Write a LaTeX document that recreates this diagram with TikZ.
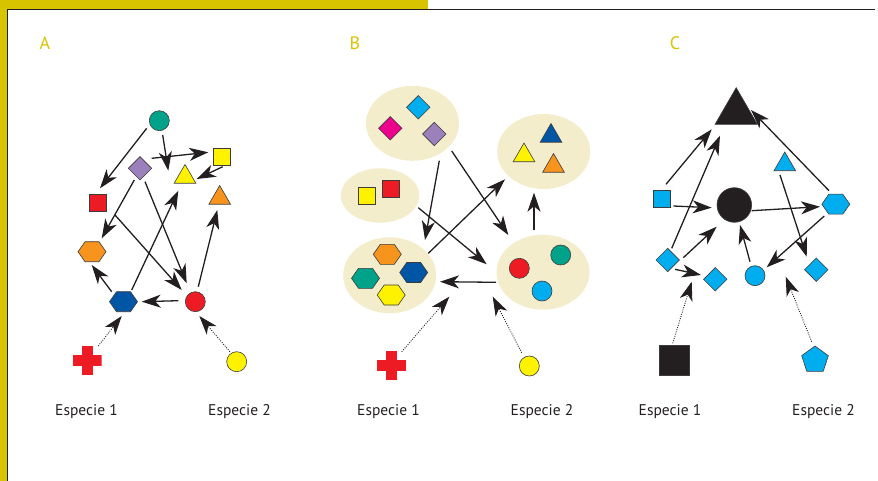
\documentclass[tikz,border=0pt]{standalone}
\usepackage{fontspec}
\setmainfont{PT Sans}
\usetikzlibrary{arrows.meta,shapes.geometric,shapes.symbols,calc}
\definecolor{gold}{HTML}{D8C300}
\definecolor{ink}{HTML}{231F20}
\definecolor{outl}{HTML}{3C3C3C}
\definecolor{teal}{HTML}{00A28A}
\definecolor{purp}{HTML}{9C80BB}
\definecolor{yel}{HTML}{FFF200}
\definecolor{orng}{HTML}{F7941D}
\definecolor{redc}{HTML}{ED1C24}
\definecolor{blu}{HTML}{0055A5}
\definecolor{cyn}{HTML}{00AEEF}
\definecolor{mag}{HTML}{EC008C}
\definecolor{cream}{HTML}{F4EDCC}
\tikzset{
  sh/.style={draw=outl, line width=0.6pt, inner sep=0pt, outer sep=0pt},
  circ/.style={sh, circle, minimum size=20pt, fill=#1},
  bigcirc/.style={sh, circle, minimum size=34.6pt, fill=#1},
  sq/.style={sh, rectangle, minimum size=17pt, fill=#1},
  bigsq/.style={sh, rectangle, minimum size=30pt, fill=#1},
  dia/.style={sh, diamond, minimum width=23.4pt, minimum height=23.4pt, aspect=1, fill=#1},
  tri/.style={sh, regular polygon, regular polygon sides=3, minimum size=25pt, fill=#1},
  bigtri/.style={sh, regular polygon, regular polygon sides=3, minimum size=49pt, fill=#1},
  penta/.style={sh, regular polygon, regular polygon sides=5, minimum size=28pt, fill=#1},
  hexa/.style={sh, signal, signal to=east and west, signal pointer angle=110, minimum width=28pt, minimum height=20pt, fill=#1},
  plus/.style={inner sep=0pt, minimum size=29pt, path picture={
     \fill[#1] ([xshift=-5.5pt]path picture bounding box.north) rectangle ([xshift=5.5pt]path picture bounding box.south);
     \fill[#1] ([yshift=5.5pt]path picture bounding box.west) rectangle ([yshift=-5.5pt]path picture bounding box.east);}},
  blob/.style={ellipse, fill=cream, inner sep=0pt, minimum width=93pt, minimum height=75pt},
  tipstyle/.style={-{Stealth[length=19pt,width=13pt,inset=5.5pt]}},
  arr/.style={draw=ink, line width=1.3pt, tipstyle},
  dotarr/.style={draw=ink, line width=0.9pt, dash pattern=on 0.9pt off 1.4pt, tipstyle},
  lab/.style={font=\fontsize{15.5}{18}\selectfont, text=ink, inner sep=0pt},
  head/.style={font=\fontsize{18}{20}\selectfont, text=gold, inner sep=0pt},
}
\begin{document}
\begin{tikzpicture}[x=1pt,y=-1pt]
\useasboundingbox (0,0) rectangle (878,481);
% frame
\fill[gold] (0,0) rectangle (428,9);
\fill[gold] (0,0) rectangle (7,481);
\draw[ink, line width=1pt] (7.5,481) -- (7.5,9.5) -- (875,9.5);
% headings
\node[head] (hA) at (45,43) {A};
\node[head] (hB) at (355,43) {B};
\node[head] (hC) at (675,43) {C};
% ---------------- Panel A
\node[circ=teal] (gc) at (159.3,120.7) {};
\node[dia=purp] (pd) at (140,168.3) {};
\node[tri=yel] (yt) at (185,177) {};
\node[sq=yel] (ys) at (221.7,157.3) {};
\node[tri=orng] (ot) at (219.7,198) {};
\node[sq=redc] (rs) at (97.5,203) {};
\node[hexa=orng] (oh) at (92,251.7) {};
\node[hexa=blu] (bh) at (123.5,301.7) {};
\node[circ=redc] (rc) at (195.3,301.7) {};
\node[plus=redc] (cr) at (87,360.7) {};
\node[circ=yel] (yc) at (236.7,361.7) {};
\draw[arr] ([shift={(-12.6,7.6)}]gc.center) -- ([shift={(2.5,-14.7)}]rs.center);
\draw[arr] ([shift={(3.4,14.3)}]gc.center) -- ([shift={(-16.7,-6.3)}]yt.center);
\draw[arr] ([shift={(11.7,-10)}]pd.center) -- ([shift={(-13.4,-5)}]ys.center);
\draw[arr] ([shift={(1,9.4)}]ys.center) -- ([shift={(11.7,2)}]yt.center);
\draw[arr] ([shift={(-5.7,11.7)}]pd.center) -- ([shift={(9.7,-13.4)}]oh.center);
\draw[arr] ([shift={(5,13.4)}]pd.center) -- ([shift={(-8.6,-18.4)}]rc.center);
\draw[arr] ([shift={(17.5,12)}]rs.center) -- ([shift={(-13.6,-11.7)}]rc.center);
\draw[arr] ([shift={(8.2,-11.7)}]bh.center) -- ([shift={(-6.7,13.7)}]yt.center);
\draw[arr] ([shift={(3,-15)}]rc.center) -- ([shift={(-2.4,12)}]ot.center);
\draw[arr] ([shift={(-11.8,-10)}]bh.center) -- ([shift={(-0.3,13.3)}]oh.center);
\draw[arr] ([shift={(-17,-1)}]rc.center) -- ([shift={(18.2,0)}]bh.center);
\draw[dotarr] ([shift={(11.3,-14.7)}]cr.center) -- ([shift={(-1.8,14.3)}]bh.center);
\draw[dotarr] ([shift={(-6.7,-10)}]yc.center) -- ([shift={(4,14.3)}]rc.center);
\node[lab] (a1) at (86.5,412) {Especie 1};
\node[lab] (a2) at (239.5,412) {Especie 2};
% ---------------- Panel B
\node[blob] (e1) at (412.5,123.3) {};
\node[blob, minimum width=78.6pt, minimum height=54.4pt] (e2) at (380,195.5) {};
\node[blob] (e3) at (543.7,151.5) {};
\node[blob, minimum height=76pt] (e4) at (389.7,275.3) {};
\node[blob] (e5) at (543,272.2) {};
\node[dia=cyn] (cd) at (418.3,107.3) {};
\node[dia=mag] (md) at (390.3,128.3) {};
\node[dia=purp] (pd2) at (434.3,134) {};
\node[sq=yel] (ys2) at (366.3,195.5) {};
\node[sq=redc] (rs2) at (391,189) {};
\node[tri=blu] (bt) at (551,136) {};
\node[tri=yel] (yt2) at (524,155.5) {};
\node[tri=orng] (ot2) at (553.5,166) {};
\node[hexa=orng] (oh2) at (387.3,254.3) {};
\node[hexa=teal] (gh) at (365.5,278.3) {};
\node[hexa=blu] (bh2) at (413.7,272.5) {};
\node[hexa=yel] (yh) at (391.2,295) {};
\node[circ=redc] (rc2) at (519.3,268.3) {};
\node[circ=teal] (gc2) at (560.7,255) {};
\node[circ=cyn] (cc) at (542,291) {};
\node[plus=redc] (cr2) at (391.3,365.8) {};
\node[circ=yel] (yc2) at (529.3,366) {};
\draw[arr] ([shift={(26.8,37.4)}]e1.center) -- ([shift={(35.3,-35.3)}]e4.center);
\draw[arr] ([shift={(39.2,27.7)}]e1.center) -- ([shift={(-34.7,-37.2)}]e5.center);
\draw[arr] ([shift={(38.3,12.2)}]e2.center) -- ([shift={(-56.3,-7.9)}]e5.center);
\draw[arr] ([shift={(38.6,-22)}]e4.center) -- ([shift={(-38.7,27.8)}]e3.center);
\draw[arr] ([shift={(-9,-42.2)}]e5.center) -- ([shift={(-9.7,41.2)}]e3.center);
\draw[arr] ([shift={(-47,10.1)}]e5.center) -- ([shift={(50.3,6.4)}]e4.center);
\draw[dotarr] ([shift={(10.4,-14.1)}]cr2.center) -- ([shift={(59.6,21.4)}]e4.center);
\draw[dotarr] ([shift={(-7.6,-13.3)}]yc2.center) -- ([shift={(-50.3,24.5)}]e5.center);
\node[lab] (b1) at (388.5,412) {Especie 1};
\node[lab] (b2) at (542,412) {Especie 2};
% ---------------- Panel C
\node[bigtri=ink] (bt3) at (736.2,112.2) {};
\node[tri=cyn] (ct) at (784.8,164.5) {};
\node[sq=cyn] (cs) at (662,198.7) {};
\node[bigcirc=ink] (bc) at (734.3,205) {};
\node[hexa=cyn] (ch) at (835.8,204.2) {};
\node[dia=cyn] (d1) at (667.7,260) {};
\node[dia=cyn] (d2) at (715.3,279.3) {};
\node[circ=cyn] (cc3) at (755,275.7) {};
\node[dia=cyn] (d3) at (816.3,269.7) {};
\node[bigsq=ink] (bs) at (674.3,360) {};
\node[penta=cyn] (pt) at (815,360) {};
\draw[arr] ([shift={(4,-14.4)}]cs.center) -- ([shift={(-24.5,17.1)}]bt3.center);
\draw[arr] ([shift={(4,-11.7)}]d1.center) -- ([shift={(-16.2,23.5)}]bt3.center);
\draw[arr] ([shift={(-6.8,-13.5)}]ch.center) -- ([shift={(14.8,-2.2)}]bt3.center);
\draw[arr] ([shift={(11.3,7.3)}]cs.center) -- ([shift={(-22.6,2.7)}]bc.center);
\draw[arr] ([shift={(17.4,5.7)}]bc.center) -- ([shift={(-15.8,2.5)}]ch.center);
\draw[arr] ([shift={(-4.8,10.5)}]ct.center) -- ([shift={(-9.6,-13)}]d3.center);
\draw[arr] ([shift={(-11.5,11.8)}]ch.center) -- ([shift={(11.7,-8.4)}]cc3.center);
\draw[arr] ([shift={(-5,-14)}]cc3.center) -- ([shift={(5.7,20)}]bc.center);
\draw[arr] ([shift={(15.6,-2.3)}]d1.center) -- ([shift={(-17.6,21.7)}]bc.center);
\draw[arr] ([shift={(7.3,9.3)}]d1.center) -- ([shift={(-14.3,-4.3)}]d2.center);
\draw[dotarr] ([shift={(-1.6,-16.7)}]bs.center) -- ([shift={(-23.6,2.4)}]d2.center);
\draw[dotarr] ([shift={(-3.3,-18.3)}]pt.center) -- ([shift={(30.7,1)}]cc3.center);
\node[lab] (c1) at (670,412) {Especie 1};
\node[lab] (c2) at (823.5,412) {Especie 2};
\end{tikzpicture}
\end{document}
